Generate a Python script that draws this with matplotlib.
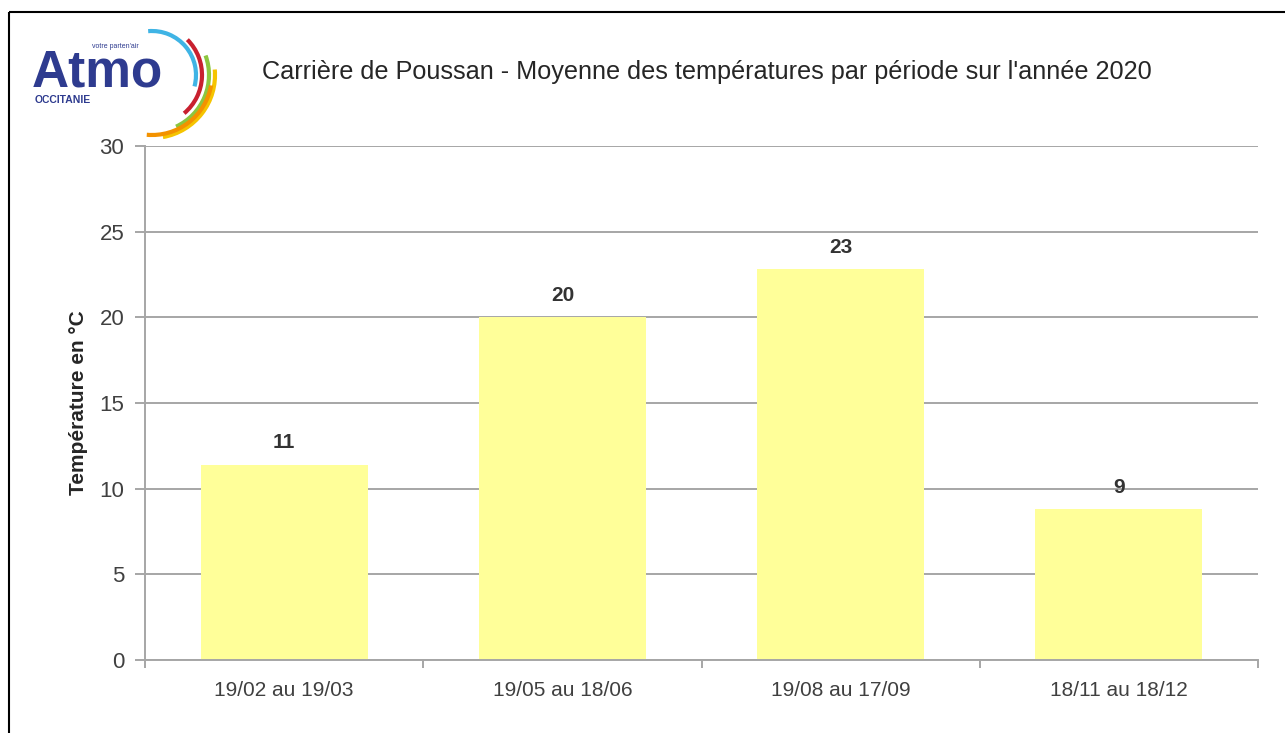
import matplotlib.pyplot as plt
import numpy as np
from matplotlib.patches import Arc, Rectangle

# Données
periodes = ["19/02 au 19/03", "19/05 au 18/06", "19/08 au 17/09", "18/11 au 18/12"]
temperatures = [11.4, 20.0, 22.8, 8.8]
y_ticks = [0, 5, 10, 15, 20, 25, 30]

titre = "Carrière de Poussan - Moyenne des températures par période sur l'année 2020"

plt.rcParams['font.family'] = ['Liberation Sans', 'DejaVu Sans']

W, H = 1285, 733
fig = plt.figure(figsize=(W / 100, H / 100), dpi=100)
fig.patch.set_facecolor('white')

gris = '#a6a6a6'
texte = '#404040'

# Axe principal
ax = fig.add_axes([145 / W, 1 - 660 / H, (1258 - 145) / W, (660 - 146) / H])
x = np.arange(len(periodes))
bars = ax.bar(x, temperatures, width=0.6, color='#ffff99', zorder=2)

ax.set_xlim(-0.5, len(periodes) - 0.5)
ax.set_ylim(0, 30)
ax.set_yticks(y_ticks)
ax.set_yticklabels([str(t) for t in y_ticks], fontsize=16, color=texte)
ax.yaxis.grid(True, color=gris, linewidth=1.4, zorder=0)
ax.set_axisbelow(True)

# ticks x aux limites des catégories
ax.set_xticks(np.arange(-0.5, len(periodes), 1.0))
ax.set_xticklabels([])
ax.set_xticks(x, minor=True)
ax.set_xticklabels(periodes, minor=True, fontsize=15, color=texte)
ax.tick_params(axis='x', which='minor', length=0, pad=15)
ax.tick_params(axis='x', which='major', length=6, width=1.4, color=gris)
ax.tick_params(axis='y', length=7, width=1.4, color=gris, pad=8)

for side in ['top', 'right']:
    ax.spines[side].set_visible(False)
for side in ['left', 'bottom']:
    ax.spines[side].set_color(gris)
    ax.spines[side].set_linewidth(1.4)

ax.set_ylabel("Température en °C", fontsize=15, fontweight='bold', color='#262626', labelpad=8)

for b, v in zip(bars, temperatures):
    ax.annotate(f"{round(v):d}", (b.get_x() + b.get_width() / 2, v),
                xytext=(0, 9), textcoords='offset points', ha='center', va='bottom',
                fontsize=15, fontweight='bold', color='#333333')

# Calque décoratif en pixels : cadre, logo, titre
deco = fig.add_axes([0, 0, 1, 1], zorder=-1)
deco.set_xlim(0, W)
deco.set_ylim(H, 0)
deco.axis('off')
deco.add_patch(Rectangle((9, 12), W + 20, H + 20, fill=False, edgecolor='black', linewidth=1.5))

fig.text(262 / W, 1 - 72 / H, titre, fontsize=18.2, color='#262626', va='center', ha='left')

bleu = '#2e3b8f'
fig.text(32 / W, 1 - 73 / H, "Atmo", fontsize=37, fontweight='bold', color=bleu, va='center', ha='left')
fig.text(35 / W, 1 - 100 / H, "OCCITANIE", fontsize=7.5, fontweight='bold', color=bleu, va='center', ha='left')
fig.text(92 / W, 1 - 46 / H, "votre parten'air", fontsize=5, color=bleu, va='center', ha='left')

arcs = [('#3fb4e5', 44, -95, 15), ('#c8202f', 50, -45, 50), ('#8cc63f', 57, -20, 65),
        ('#f5c400', 63, -5, 80), ('#f39200', 60, 10, 95)]
for c, r, t1, t2 in arcs:
    deco.add_patch(Arc((152, 75), 2 * r, 2 * r, theta1=t1, theta2=t2, color=c, linewidth=3))

fig.savefig('out.png', dpi=100)
